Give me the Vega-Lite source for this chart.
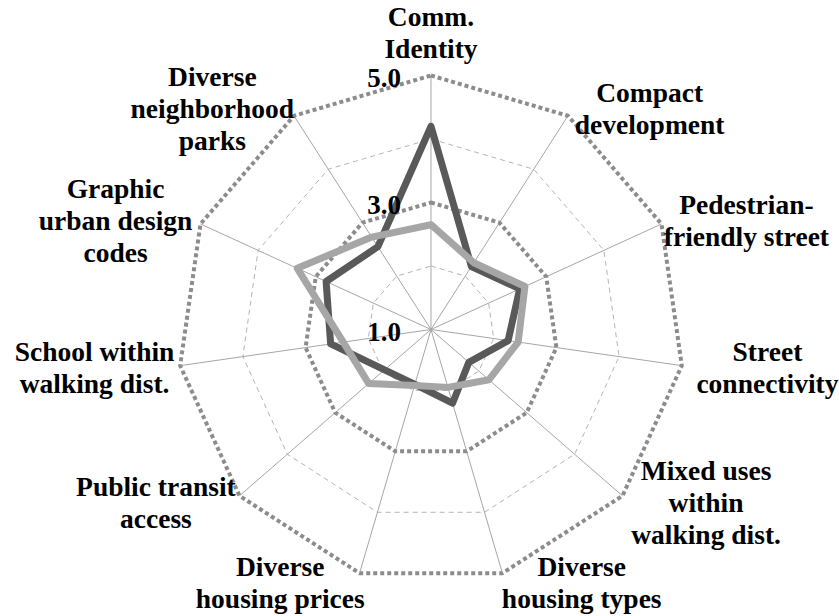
{
  "$schema": "https://vega.github.io/schema/vega-lite/v6.json",
  "width": 839,
  "height": 616,
  "autosize": {"type": "fit", "contains": "padding"},
  "padding": 0,
  "background": "white",
  "config": {"view": {"stroke": null}},
  "datasets": {
    "axes": [
      {"k": 0, "axis": "Comm. Identity", "label": ["Comm.", "Identity"]},
      {"k": 1, "axis": "Compact development", "label": ["Compact", "development"]},
      {"k": 2, "axis": "Pedestrian-friendly street", "label": ["Pedestrian-", "friendly street"]},
      {"k": 3, "axis": "Street connectivity", "label": ["Street", "connectivity"]},
      {"k": 4, "axis": "Mixed uses within walking dist.", "label": ["Mixed uses", "within", "walking dist."]},
      {"k": 5, "axis": "Diverse housing types", "label": ["Diverse", "housing types"]},
      {"k": 6, "axis": "Diverse housing prices", "label": ["Diverse", "housing prices"]},
      {"k": 7, "axis": "Public transit access", "label": ["Public transit", "access"]},
      {"k": 8, "axis": "School within walking dist.", "label": ["School within", "walking dist."]},
      {"k": 9, "axis": "Graphic urban design codes", "label": ["Graphic", "urban design", "codes"]},
      {"k": 10, "axis": "Diverse neighborhood parks", "label": ["Diverse", "neighborhood", "parks"]}
    ],
    "scores": [
      {"series": "Series 1", "k": 0, "value": 4.2},
      {"series": "Series 1", "k": 1, "value": 2.18},
      {"series": "Series 1", "k": 2, "value": 2.54},
      {"series": "Series 1", "k": 3, "value": 2.23},
      {"series": "Series 1", "k": 4, "value": 1.79},
      {"series": "Series 1", "k": 5, "value": 2.21},
      {"series": "Series 1", "k": 6, "value": 1.9},
      {"series": "Series 1", "k": 7, "value": 1.97},
      {"series": "Series 1", "k": 8, "value": 2.6},
      {"series": "Series 1", "k": 9, "value": 2.82},
      {"series": "Series 1", "k": 10, "value": 2.55},
      {"series": "Series 2", "k": 0, "value": 2.65},
      {"series": "Series 2", "k": 1, "value": 2.25},
      {"series": "Series 2", "k": 2, "value": 2.63},
      {"series": "Series 2", "k": 3, "value": 2.39},
      {"series": "Series 2", "k": 4, "value": 2.21},
      {"series": "Series 2", "k": 5, "value": 1.95},
      {"series": "Series 2", "k": 6, "value": 1.92},
      {"series": "Series 2", "k": 7, "value": 2.3},
      {"series": "Series 2", "k": 8, "value": 2.4},
      {"series": "Series 2", "k": 9, "value": 3.32},
      {"series": "Series 2", "k": 10, "value": 2.73}
    ],
    "ticks": [
      {"level": 1, "text": "1.0"},
      {"level": 3, "text": "3.0"},
      {"level": 5, "text": "5.0"}
    ]
  },
  "layer": [
    {
      "data": {"name": "axes"},
      "transform": [
        {"calculate": "[2, 4]", "as": "level"},
        {"flatten": ["level"]},
        {"calculate": "2*PI*datum.k/11", "as": "t"},
        {"calculate": "(datum.level-1)*sin(datum.t)", "as": "x"},
        {"calculate": "(datum.level-1)*cos(datum.t)", "as": "y"}
      ],
      "mark": {"type": "line", "interpolate": "linear-closed", "stroke": "#b4b4b4", "strokeWidth": 1, "strokeDash": [5, 4]},
      "encoding": {
        "x": {"field": "x", "type": "quantitative", "scale": {"domain": [-6.803, 6.409], "nice": false, "zero": false}, "axis": null},
        "y": {"field": "y", "type": "quantitative", "scale": {"domain": [-4.512, 5.189], "nice": false, "zero": false}, "axis": null},
        "detail": {"field": "level", "type": "nominal"},
        "order": {"field": "k", "type": "quantitative"}
      }
    },
    {
      "data": {"name": "axes"},
      "transform": [
        {"calculate": "2*PI*datum.k/11", "as": "t"},
        {"calculate": "0", "as": "ox"},
        {"calculate": "0", "as": "oy"},
        {"calculate": "4*sin(datum.t)", "as": "ex"},
        {"calculate": "4*cos(datum.t)", "as": "ey"}
      ],
      "mark": {"type": "rule", "stroke": "#a6a6a6", "strokeWidth": 1},
      "encoding": {
        "x": {"field": "ox", "type": "quantitative", "scale": {"domain": [-6.803, 6.409], "nice": false, "zero": false}, "axis": null},
        "y": {"field": "oy", "type": "quantitative", "scale": {"domain": [-4.512, 5.189], "nice": false, "zero": false}, "axis": null},
        "x2": {"field": "ex"},
        "y2": {"field": "ey"}
      }
    },
    {
      "data": {"name": "axes"},
      "transform": [
        {"calculate": "[3, 5]", "as": "level"},
        {"flatten": ["level"]},
        {"calculate": "2*PI*datum.k/11", "as": "t"},
        {"calculate": "(datum.level-1)*sin(datum.t)", "as": "x"},
        {"calculate": "(datum.level-1)*cos(datum.t)", "as": "y"}
      ],
      "mark": {"type": "line", "interpolate": "linear-closed", "stroke": "#8c8c8c", "strokeWidth": 4, "strokeDash": [4, 3], "strokeCap": "butt"},
      "encoding": {
        "x": {"field": "x", "type": "quantitative", "scale": {"domain": [-6.803, 6.409], "nice": false, "zero": false}, "axis": null},
        "y": {"field": "y", "type": "quantitative", "scale": {"domain": [-4.512, 5.189], "nice": false, "zero": false}, "axis": null},
        "detail": {"field": "level", "type": "nominal"},
        "order": {"field": "k", "type": "quantitative"}
      }
    },
    {
      "data": {"name": "scores"},
      "transform": [
        {"filter": "datum.series === 'Series 1'"},
        {"calculate": "2*PI*datum.k/11", "as": "t"},
        {"calculate": "(datum.value-1)*sin(datum.t)", "as": "x"},
        {"calculate": "(datum.value-1)*cos(datum.t)", "as": "y"}
      ],
      "mark": {"type": "line", "interpolate": "linear-closed", "stroke": "#595959", "strokeWidth": 7, "strokeJoin": "round"},
      "encoding": {
        "x": {"field": "x", "type": "quantitative", "scale": {"domain": [-6.803, 6.409], "nice": false, "zero": false}, "axis": null},
        "y": {"field": "y", "type": "quantitative", "scale": {"domain": [-4.512, 5.189], "nice": false, "zero": false}, "axis": null},
        "order": {"field": "k", "type": "quantitative"}
      }
    },
    {
      "data": {"name": "scores"},
      "transform": [
        {"filter": "datum.series === 'Series 2'"},
        {"calculate": "2*PI*datum.k/11", "as": "t"},
        {"calculate": "(datum.value-1)*sin(datum.t)", "as": "x"},
        {"calculate": "(datum.value-1)*cos(datum.t)", "as": "y"}
      ],
      "mark": {"type": "line", "interpolate": "linear-closed", "stroke": "#a6a6a6", "strokeWidth": 7, "strokeJoin": "round"},
      "encoding": {
        "x": {"field": "x", "type": "quantitative", "scale": {"domain": [-6.803, 6.409], "nice": false, "zero": false}, "axis": null},
        "y": {"field": "y", "type": "quantitative", "scale": {"domain": [-4.512, 5.189], "nice": false, "zero": false}, "axis": null},
        "order": {"field": "k", "type": "quantitative"}
      }
    },
    {
      "data": {"name": "ticks"},
      "transform": [
        {"calculate": "0", "as": "x"},
        {"calculate": "datum.level-1", "as": "y"}
      ],
      "mark": {"type": "text", "align": "right", "baseline": "middle", "dx": -30, "dy": 4, "font": "Liberation Serif", "fontWeight": "bold", "fontSize": 27, "color": "#000000"},
      "encoding": {
        "x": {"field": "x", "type": "quantitative", "scale": {"domain": [-6.803, 6.409], "nice": false, "zero": false}, "axis": null},
        "y": {"field": "y", "type": "quantitative", "scale": {"domain": [-4.512, 5.189], "nice": false, "zero": false}, "axis": null},
        "text": {"field": "text", "type": "nominal"}
      }
    },
    {
      "data": {"name": "axes"},
      "transform": [
        {"calculate": "2*PI*datum.k/11", "as": "t"},
        {"calculate": "length(datum.label)", "as": "n"},
        {"calculate": "4.14*sin(datum.t) + (sin(datum.t) > 0.05 ? 1.213 : (sin(datum.t) < -0.05 ? -1.213 : 0))", "as": "lx"},
        {"calculate": "4.14*cos(datum.t) + (cos(datum.t) > 0.99 ? (datum.n*16+2.5)/63.5 : 0) + (datum.n-1)*16/63.5", "as": "ly"}
      ],
      "mark": {"type": "text", "align": "center", "baseline": "middle", "dy": 2, "font": "Liberation Serif", "fontWeight": "bold", "fontSize": 27.5, "lineHeight": 32, "color": "#000000"},
      "encoding": {
        "x": {"field": "lx", "type": "quantitative", "scale": {"domain": [-6.803, 6.409], "nice": false, "zero": false}, "axis": null},
        "y": {"field": "ly", "type": "quantitative", "scale": {"domain": [-4.512, 5.189], "nice": false, "zero": false}, "axis": null},
        "text": {"field": "label", "type": "nominal"}
      }
    }
  ]
}
